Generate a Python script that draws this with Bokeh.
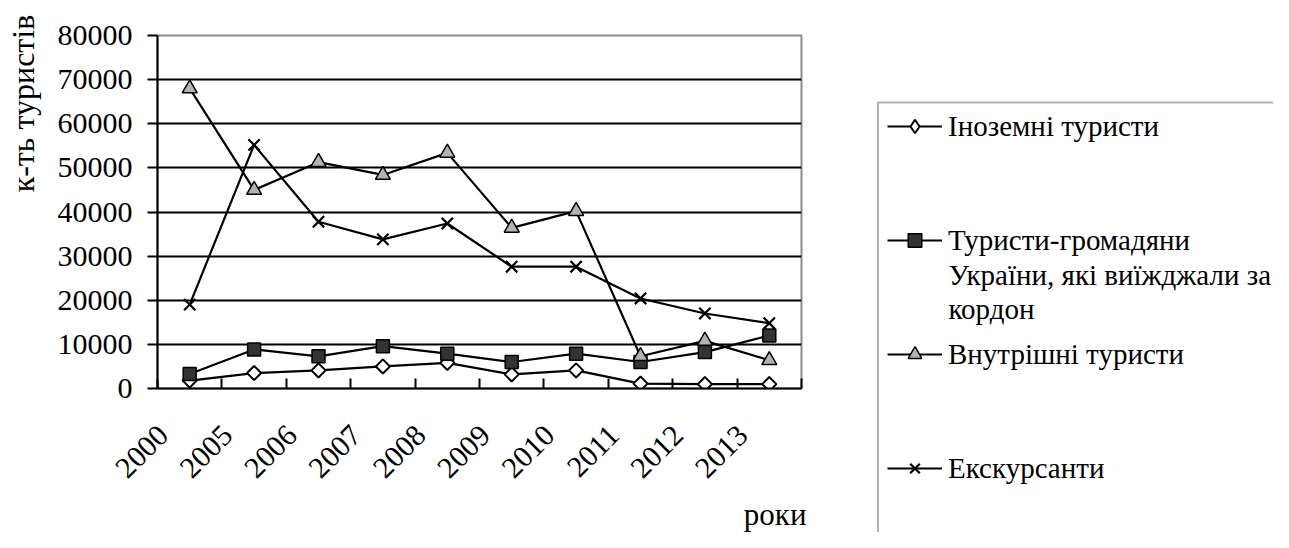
from math import pi
from bokeh.plotting import figure
from bokeh.layouts import row, column
from bokeh.models import (ColumnDataSource, FixedTicker, Legend, LegendItem,
                          Range1d, Label, BoxAnnotation)
from bokeh.embed import file_html
from bokeh.resources import INLINE

years = ["2000", "2005", "2006", "2007", "2008", "2009", "2010", "2011", "2012", "2013"]
foreign = [1800, 3500, 4100, 5000, 5800, 3200, 4100, 1100, 1000, 1000]
outbound = [3300, 8850, 7300, 9600, 7900, 6000, 7900, 6000, 8250, 12000]
domestic = [68000, 45000, 51300, 48400, 53400, 36400, 40200, 7300, 10800, 6400]
excursion = [19000, 55200, 37800, 33800, 37400, 27600, 27600, 20400, 17000, 14800]
names = ["Іноземні туристи", "Туристи-громадяни", "Внутрішні туристи", "Екскурсанти"]
name2_rest = ["України, які виїжджали за", "кордон"]
y_ticks = [0, 10000, 20000, 30000, 40000, 50000, 60000, 70000, 80000]
y_title = "к-ть туристів"
x_title = "роки"

FONT = "Liberation Serif"
FS = "30px"      # tick labels
FL = "29px"      # legend
FT = "32px"      # y title
FX = "31px"      # x title
xs = [i + 0.5 for i in range(len(years))]
src = ColumnDataSource(dict(x=xs, foreign=foreign, outbound=outbound,
                            domestic=domestic, excursion=excursion))

H = 532
W0 = 48            # strip holding the y title
W1 = 876 - W0      # main chart
W2 = 1273 - 876    # legend strip
H1 = 497           # main chart height
H2 = H - H1        # strip below holding the x title


def strip(w, h):
    f = figure(width=w, height=h, output_backend="svg", toolbar_location=None,
               x_range=Range1d(0, w), y_range=Range1d(0, h),
               x_axis_type=None, y_axis_type=None,
               min_border_left=0, min_border_right=0, min_border_top=0,
               min_border_bottom=0)
    f.frame_align = False
    f.outline_line_color = None
    f.background_fill_color = "white"
    f.border_fill_color = "white"
    return f


# ---- y title strip
t = strip(W0, H)
t.add_layout(Label(x=22, y=H - 103, text=y_title, angle=pi / 2, text_align="center",
                   text_baseline="middle", text_font=FONT, text_font_size=FT,
                   text_color="black"))

# ---- main chart
p = figure(width=W1, height=H1, output_backend="svg", toolbar_location=None,
           x_range=Range1d(0, len(years)), y_range=Range1d(0, 80000),
           min_border_left=157 - W0, min_border_right=876 - 801, min_border_top=35,
           min_border_bottom=H1 - 388)
p.frame_align = False
p.background_fill_color = "white"
p.border_fill_color = "white"
p.outline_line_color = "#8c8c8c"
p.outline_line_width = 2

p.yaxis.ticker = FixedTicker(ticks=y_ticks)
p.yaxis.major_tick_out = 10
p.yaxis.major_tick_in = 0
p.yaxis.minor_tick_line_color = None
p.yaxis.axis_line_width = 2
p.yaxis.major_tick_line_width = 2
p.yaxis.major_label_standoff = 15
p.yaxis.major_label_text_font = FONT
p.yaxis.major_label_text_font_size = FS
p.yaxis.major_label_text_color = "black"

label_ticks = [x - 0.41 for x in xs]
p.xaxis.ticker = FixedTicker(ticks=label_ticks, minor_ticks=list(range(len(years) + 1)))
p.xaxis.major_label_overrides = {t_: y for t_, y in zip(label_ticks, years)}
p.xaxis.major_tick_in = 0
p.xaxis.major_tick_out = 0
p.xaxis.minor_tick_in = 10
p.xaxis.minor_tick_out = 0
p.xaxis.minor_tick_line_width = 2
p.xaxis.minor_tick_line_color = "black"
p.xaxis.axis_line_width = 2
p.xaxis.major_label_orientation = pi / 4
p.xaxis.major_label_standoff = 42
p.xaxis.major_label_text_font = FONT
p.xaxis.major_label_text_font_size = FS
p.xaxis.major_label_text_color = "black"

p.xgrid.grid_line_color = None
p.ygrid.ticker = FixedTicker(ticks=y_ticks[:-1])
p.ygrid.grid_line_color = "black"
p.ygrid.grid_line_width = 2

styles = [
    dict(col="foreign", marker="square", angle=pi / 4, size=10, fill="white", lw=2,
         lmarker="diamond"),
    dict(col="outbound", marker="square", angle=0, size=13, fill="#333333", lw=1.5,
         lmarker="square"),
    dict(col="domestic", marker="triangle", angle=0, size=15, fill="#b3b3b3", lw=1.5,
         lmarker="triangle"),
    dict(col="excursion", marker="x", angle=0, size=16, fill=None, lw=2.2,
         lmarker="x"),
]
for s in styles:
    p.line("x", s["col"], source=src, line_color="black", line_width=2.2)
    p.scatter("x", s["col"], source=src, marker=s["marker"], angle=s["angle"],
              size=s["size"], fill_color=s["fill"], line_color="black",
              line_width=s["lw"])

# ---- x title strip (below the chart)
b = strip(W1, H2)
b.add_layout(Label(x=806 - W0, y=H2 - (514 - H1), text=x_title, text_align="right",
                   text_baseline="middle", text_font=FONT, text_font_size=FX,
                   text_color="black"))

# ---- legend strip
q = strip(W2, H)
items = []
for s, name in zip(styles, names):
    lr = q.line("x", s["col"], source=src, line_color="black", line_width=2.2,
                visible=False)
    mr = q.scatter("x", s["col"], source=src, marker=s["lmarker"], fill_color=s["fill"],
                   line_color="black", line_width=s["lw"], visible=False)
    items.append(LegendItem(label=name, renderers=[lr, mr]))

legend = Legend(items=items, location=(11, 47), margin=0, padding=0, spacing=80,
                glyph_width=55, glyph_height=34, label_height=34, label_standoff=6,
                label_text_font=FONT, label_text_font_size=FL, label_text_color="black",
                border_line_color=None, background_fill_alpha=0,
                inactive_fill_alpha=0)
q.add_layout(legend, "center")

q.add_layout(BoxAnnotation(left=1.5, right=W2 + 50, top=H - 102, bottom=-50,
                           fill_alpha=0, line_color="black", line_width=2))
for txt, ym in zip(name2_rest, [274, 308]):
    q.add_layout(Label(x=72, y=H - ym, text=txt, text_align="left",
                       text_baseline="middle", text_font=FONT,
                       text_font_size=FL, text_color="black"))

open("out.html", "w").write(file_html(row(t, column(p, b), q), INLINE))
